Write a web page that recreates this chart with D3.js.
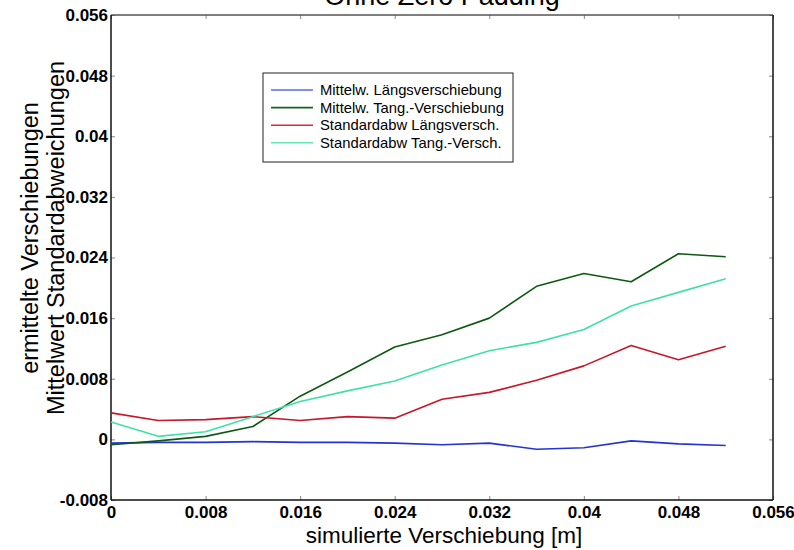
<!DOCTYPE html>
<html>
<head>
<meta charset="utf-8">
<script src="https://cdn.jsdelivr.net/npm/d3@7"></script>
<style>
  html, body { margin: 0; padding: 0; background: #fff; }
  svg { display: block; }
</style>
</head>
<body>
<svg id="chart" width="794" height="550"></svg>
<script>
// Simulated displacement steps [m]
const xValues = [0, 0.004, 0.008, 0.012, 0.016, 0.020, 0.024, 0.028, 0.032, 0.036, 0.040, 0.044, 0.048, 0.052];

// Mean and standard deviation of the detected displacements
const mittelLaengs = [-0.0005, -0.0004, -0.0004, -0.0003, -0.0004, -0.0004, -0.0005, -0.0007, -0.0005, -0.0013, -0.0011, -0.0002, -0.0006, -0.0008];
const mittelTang   = [-0.0007, -0.0002, 0.0004, 0.0017, 0.0057, 0.0089, 0.0122, 0.0138, 0.0160, 0.0202, 0.0219, 0.0208, 0.0245, 0.0241];
const stdLaengs    = [0.0035, 0.0025, 0.0026, 0.0030, 0.0025, 0.0030, 0.0028, 0.0053, 0.0062, 0.0078, 0.0097, 0.0124, 0.0105, 0.0123];
const stdTang      = [0.0023, 0.0004, 0.0010, 0.0030, 0.0050, 0.0064, 0.0077, 0.0098, 0.0117, 0.0128, 0.0145, 0.0176, 0.0194, 0.0212];

const seriesNames = ["Mittelw. Längsverschiebung", "Mittelw. Tang.-Verschiebung", "Standardabw Längsversch.", "Standardabw Tang.-Versch."];
const seriesColors = ["#2434d2", "#0e5a12", "#c8162a", "#3fe2a4"];
const legendColors = ["#5468ee", "#11661a", "#de2a30", "#62e6b4"];

const xTicks = [0, 0.008, 0.016, 0.024, 0.032, 0.040, 0.048, 0.056];
const yTicks = [-0.008, 0, 0.008, 0.016, 0.024, 0.032, 0.040, 0.048, 0.056];

const titleText = "Ohne Zero Padding";
const xLabel = "simulierte Verschiebung [m]";
const yLabelLines = ["ermittelte Verschiebungen", "Mittelwert Standardabweichungen"];

const svg = d3.select("#chart");
const font = "'Liberation Sans', Arial, Helvetica, sans-serif";

const plot = { left: 111, right: 773, top: 15, bottom: 500 };

const x = d3.scaleLinear().domain([0, 0.056]).range([plot.left, plot.right]);
const y = d3.scaleLinear().domain([-0.008, 0.056]).range([plot.bottom, plot.top]);

// Plain decimal labels with an ASCII hyphen for negatives
const fmt = d => (d === 0 ? "0" : String(+d.toFixed(3)));

// Bottom axis with inward ticks
const xAxis = svg.append("g")
  .attr("transform", `translate(0,${plot.bottom})`)
  .call(d3.axisBottom(x).tickValues(xTicks).tickSize(-4).tickPadding(6).tickFormat(fmt));
// Left axis with inward ticks
const yAxis = svg.append("g")
  .attr("transform", `translate(${plot.left},0)`)
  .call(d3.axisLeft(y).tickValues(yTicks).tickSize(-4).tickPadding(3).tickFormat(fmt));
// Mirrored ticks on top and right edges
const xTop = svg.append("g")
  .attr("transform", `translate(0,${plot.top})`)
  .call(d3.axisTop(x).tickValues(xTicks).tickSize(-4).tickFormat(""));
const yRight = svg.append("g")
  .attr("transform", `translate(${plot.right},0)`)
  .call(d3.axisRight(y).tickValues(yTicks).tickSize(-4).tickFormat(""));

[xAxis, yAxis, xTop, yRight].forEach(g => {
  g.select(".domain").remove();
  g.selectAll(".tick line").attr("stroke", "#888").attr("stroke-width", 1);
  g.selectAll(".tick text")
    .attr("fill", "#000")
    .style("font-family", font)
    .style("font-size", "17px")
    .style("font-weight", "bold");
});

// Frame
svg.append("line").attr("x1", plot.left).attr("x2", plot.right).attr("y1", plot.top).attr("y2", plot.top)
  .attr("stroke", "#555").attr("stroke-width", 1.5);
svg.append("line").attr("x1", plot.left).attr("x2", plot.right).attr("y1", plot.bottom).attr("y2", plot.bottom)
  .attr("stroke", "#111").attr("stroke-width", 1.5);
svg.append("line").attr("x1", plot.left).attr("x2", plot.left).attr("y1", plot.top).attr("y2", plot.bottom)
  .attr("stroke", "#111").attr("stroke-width", 1.5);
svg.append("line").attr("x1", plot.right).attr("x2", plot.right).attr("y1", plot.top).attr("y2", plot.bottom)
  .attr("stroke", "#111").attr("stroke-width", 1.5);

// Data lines
const series = [mittelLaengs, mittelTang, stdLaengs, stdTang];
const line = d3.line().x((d, i) => x(xValues[i])).y(d => y(d));
series.forEach((vals, k) => {
  svg.append("path")
    .datum(vals)
    .attr("fill", "none")
    .attr("stroke", seriesColors[k])
    .attr("stroke-width", 1.6)
    .attr("stroke-linejoin", "round")
    .attr("d", line);
});

// Legend
const lg = svg.append("g").attr("transform", "translate(263,73)");
lg.append("rect").attr("width", 250).attr("height", 89)
  .attr("fill", "#fff").attr("stroke", "#222").attr("stroke-width", 1);
seriesNames.forEach((name, k) => {
  const cy = 17 + k * 17.6;
  lg.append("line").attr("x1", 8).attr("x2", 50).attr("y1", cy).attr("y2", cy)
    .attr("stroke", legendColors[k]).attr("stroke-width", 1.6);
  lg.append("text").attr("x", 57).attr("y", cy).attr("dy", "0.35em")
    .style("font-family", font).style("font-size", "14.8px").attr("fill", "#000")
    .text(name);
});

// Title (partly above the visible area)
svg.append("text")
  .attr("x", (plot.left + plot.right) / 2).attr("y", 5)
  .attr("text-anchor", "middle")
  .style("font-family", font).style("font-size", "27px").attr("fill", "#000")
  .text(titleText);

// X axis label
svg.append("text")
  .attr("x", (plot.left + plot.right) / 2 + 2).attr("y", 543)
  .attr("text-anchor", "middle")
  .style("font-family", font).style("font-size", "22.5px").attr("fill", "#000")
  .text(xLabel);

// Y axis label, two lines
const yl = svg.append("text")
  .attr("transform", `translate(38,238) rotate(-90)`)
  .attr("text-anchor", "middle")
  .style("font-family", font).style("font-size", "23.5px").attr("fill", "#000");
yLabelLines.forEach((t, i) => {
  yl.append("tspan").attr("x", 0).attr("dy", i === 0 ? 0 : 26).text(t);
});
</script>
</body>
</html>
